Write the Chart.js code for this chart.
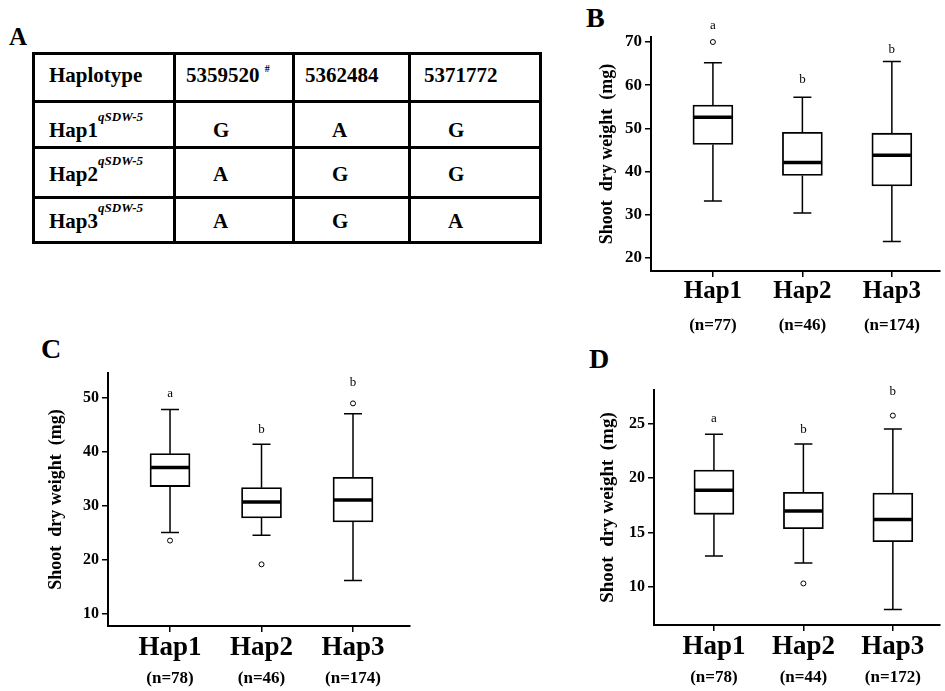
<!DOCTYPE html>
<html>
<head>
<meta charset="utf-8">
<script src="https://cdn.jsdelivr.net/npm/chart.js@4.4.1/dist/chart.umd.min.js"></script>
<style>
  body { margin: 0; width: 945px; height: 691px; background: #fff; position: relative; overflow: hidden; font-family: 'Liberation Serif', 'Times New Roman', serif; }
  .panel { position: absolute; font-weight: bold; line-height: 1; color: #000; }
  canvas { position: absolute; }
  #hapTable { position: absolute; left: 32px; top: 52px; border-collapse: collapse; table-layout: fixed; width: 507px; font-weight: bold; font-size: 21px; line-height: 24px; color: #000; }
  #hapTable td { border: 3px solid #000; padding: 0; vertical-align: top; white-space: nowrap; }
  #hapTable sup { font-size: 13px; font-style: italic; vertical-align: baseline; position: relative; top: -16px; }
  #hapTable sup.hash { font-style: normal; font-size: 10px; top: -10px; }
</style>
</head>
<body>
<div class="panel" style="left:9px;top:24px;font-size:25px;">A</div>
<div class="panel" style="left:586px;top:4px;font-size:28px;">B</div>
<div class="panel" style="left:41px;top:335px;font-size:28px;">C</div>
<div class="panel" style="left:589px;top:345px;font-size:28px;">D</div>
<table id="hapTable"></table>
<canvas id="chartB" width="365" height="345" style="left:580px;top:0px;"></canvas>
<canvas id="chartC" width="460" height="361" style="left:0px;top:330px;"></canvas>
<canvas id="chartD" width="365" height="341" style="left:580px;top:350px;"></canvas>
<script>
// table A
const snpIds = ['5359520', '5362484', '5371772'];
const hapRows = ['Hap1', 'Hap2', 'Hap3'];
const alleles = [['G', 'A', 'G'], ['A', 'G', 'G'], ['A', 'G', 'A']];

// shared x categories
const haps = ['Hap1', 'Hap2', 'Hap3'];
const xPos = [1, 2, 3];

// panel B
const nB = ['(n=77)', '(n=46)', '(n=174)'];
const minB = [33.2, 30.4, 23.8];
const q1B = [46.3, 39.1, 36.7];
const medB = [52.6, 42.1, 43.8];
const q3B = [55.4, 49.1, 48.9];
const maxB = [65.2, 57.2, 65.5];
const outB = [[70.0], [], []];
const letB = ['a', 'b', 'b'];
const letYB = [73.1, 60.4, 67.5];
const ticksB = [20, 30, 40, 50, 60, 70];

// panel C
const nC = ['(n=78)', '(n=46)', '(n=174)'];
const minC = [25.1, 24.6, 16.2];
const q1C = [33.6, 27.8, 27.05];
const medC = [37.15, 30.75, 31.1];
const q3C = [39.7, 33.4, 35.3];
const maxC = [47.85, 41.45, 47.1];
const outC = [[23.6], [19.2], [49.0]];
const letC = ['a', 'b', 'b'];
const letYC = [50.2, 43.5, 52.3];
const ticksC = [10, 20, 30, 40, 50];

// panel D
const nD = ['(n=78)', '(n=44)', '(n=172)'];
const minD = [12.83, 12.18, 7.91];
const q1D = [16.67, 15.35, 14.15];
const medD = [18.88, 16.98, 16.2];
const q3D = [20.76, 18.7, 18.64];
const maxD = [24.05, 23.16, 24.54];
const outD = [[], [10.3], [25.77]];
const letD = ['a', 'b', 'b'];
const letYD = [25.2, 24.2, 27.7];
const ticksD = [10, 15, 20, 25];

const serif = "'Liberation Serif', 'Times New Roman', serif";

// build the haplotype table
(function() {
    const colW = [141, 119, 116, 131];
    const rowH = [48, 46, 50, 45];
    const padTop = [8, 15, 13, 10];
    let html = '<colgroup>' + colW.map(w => '<col style="width:' + w + 'px">').join('') + '</colgroup>';
    html += '<tr style="height:' + rowH[0] + 'px"><td style="padding:' + padTop[0] + 'px 0 0 14px">Haplotype</td>';
    snpIds.forEach((id, j) => {
        const extra = j === 0 ? ' <sup class="hash">#</sup>' : '';
        html += '<td style="padding:' + padTop[0] + 'px 0 0 ' + (j === 2 ? 13 : 10) + 'px">' + id + extra + '</td>';
    });
    html += '</tr>';
    hapRows.forEach((h, i) => {
        html += '<tr style="height:' + rowH[i + 1] + 'px"><td style="padding:' + padTop[i + 1] + 'px 0 0 14px">' + h + '<sup>qSDW-5</sup></td>';
        alleles[i].forEach(a => {
            html += '<td style="padding:' + padTop[i + 1] + 'px 0 0 37px">' + a + '</td>';
        });
        html += '</tr>';
    });
    document.getElementById('hapTable').innerHTML = html;
})();

function boxChart(id, d) {
    var boxData = xPos.map(function(x, i) { return { x: x, y: [d.q1[i], d.q3[i]] }; });
    var outData = [];
    d.out.forEach(function(list, i) {
        list.forEach(function(v) { outData.push({ x: xPos[i], y: v }); });
    });

    // whiskers, medians and significance letters
    var boxExtras = {
        id: 'boxExtras',
        afterDatasetsDraw: function(chart) {
            var ctx = chart.ctx, xs = chart.scales.x, ys = chart.scales.y;
            ctx.save();
            ctx.strokeStyle = '#000';
            ctx.fillStyle = '#000';
            xPos.forEach(function(x, i) {
                var px = xs.getPixelForValue(x);
                ctx.lineWidth = 1.5;
                ctx.beginPath();
                ctx.moveTo(px, ys.getPixelForValue(d.q3[i]));
                ctx.lineTo(px, ys.getPixelForValue(d.max[i]));
                ctx.moveTo(px, ys.getPixelForValue(d.q1[i]));
                ctx.lineTo(px, ys.getPixelForValue(d.min[i]));
                ctx.moveTo(px - 9, ys.getPixelForValue(d.max[i]));
                ctx.lineTo(px + 9, ys.getPixelForValue(d.max[i]));
                ctx.moveTo(px - 9, ys.getPixelForValue(d.min[i]));
                ctx.lineTo(px + 9, ys.getPixelForValue(d.min[i]));
                ctx.stroke();
                ctx.lineWidth = 3.5;
                ctx.beginPath();
                ctx.moveTo(px - 19, ys.getPixelForValue(d.med[i]));
                ctx.lineTo(px + 19, ys.getPixelForValue(d.med[i]));
                ctx.stroke();
                ctx.font = '13px ' + serif;
                ctx.textAlign = 'center';
                ctx.textBaseline = 'alphabetic';
                ctx.fillText(d.letters[i], px, ys.getPixelForValue(d.letterY[i]));
            });
            ctx.restore();
        }
    };

    return new Chart(document.getElementById(id), {
        type: 'bar',
        data: {
            datasets: [{
                type: 'bar',
                data: boxData,
                backgroundColor: '#fff',
                borderColor: '#000',
                borderWidth: 1.8,
                borderSkipped: false,
                barThickness: 40,
                xAxisID: 'x',
                yAxisID: 'y'
            }, {
                type: 'scatter',
                data: outData,
                pointRadius: 2.5,
                pointBackgroundColor: '#fff',
                pointBorderColor: '#000',
                pointBorderWidth: 1,
                xAxisID: 'x',
                yAxisID: 'y'
            }]
        },
        options: {
            responsive: false,
            animation: false,
            devicePixelRatio: 1,
            layout: { padding: { left: 0, top: d.padTop, right: d.padRight, bottom: d.padBottom } },
            plugins: { legend: { display: false }, tooltip: { enabled: false } },
            scales: {
                x: {
                    type: 'linear',
                    position: 'bottom',
                    offset: false,
                    min: d.xMin,
                    max: d.xMax,
                    afterBuildTicks: function(s) { s.ticks = xPos.map(function(v) { return { value: v }; }); },
                    afterFit: function(s) { s.height = d.hapH; },
                    ticks: {
                        callback: function(v, i) { return haps[i]; },
                        font: { family: serif, size: d.hapSize, weight: 'bold' },
                        color: '#000',
                        padding: d.hapPad,
                        maxRotation: 0,
                        autoSkip: false
                    },
                    grid: { offset: false, drawOnChartArea: false, drawTicks: true, tickLength: 6, color: '#000', lineWidth: 1.5 },
                    border: { display: true, color: '#000', width: 2 }
                },
                xn: {
                    type: 'linear',
                    position: 'bottom',
                    offset: false,
                    weight: 1,
                    min: d.xMin,
                    max: d.xMax,
                    afterBuildTicks: function(s) { s.ticks = xPos.map(function(v) { return { value: v }; }); },
                    afterFit: function(s) { s.height = d.nH; },
                    ticks: {
                        callback: function(v, i) { return d.n[i]; },
                        font: { family: serif, size: 17, weight: 'bold' },
                        color: '#000',
                        padding: d.nPad,
                        maxRotation: 0,
                        autoSkip: false
                    },
                    grid: { display: false, drawTicks: false, offset: false },
                    border: { display: false }
                },
                y: {
                    type: 'linear',
                    min: d.yMin,
                    max: d.yMax,
                    afterBuildTicks: function(s) { s.ticks = d.ticks.map(function(v) { return { value: v }; }); },
                    afterFit: function(s) { s.width = d.yWidth; },
                    ticks: {
                        font: { family: serif, size: d.tickSize, weight: 'bold' },
                        color: '#000',
                        padding: 3
                    },
                    grid: { drawOnChartArea: false, drawTicks: true, tickLength: 6, color: '#000', lineWidth: 1.5 },
                    border: { display: true, color: '#000', width: 2 },
                    title: {
                        display: true,
                        text: 'Shoot  dry weight  (mg)',
                        font: { family: serif, size: d.titleSize, weight: 'bold' },
                        color: '#000',
                        padding: { top: d.titlePad, bottom: 0 }
                    }
                }
            }
        },
        plugins: [boxExtras]
    });
}

boxChart('chartB', {
    min: minB, q1: q1B, med: medB, q3: q3B, max: maxB, out: outB,
    letters: letB, letterY: letYB, ticks: ticksB, n: nB,
    yMin: 16.99, yMax: 71.16, xMin: 0.308, xMax: 3.538,
    yWidth: 71, tickSize: 17, titleSize: 18, titlePad: 17,
    hapSize: 25, hapPad: 0, hapH: 40, nPad: 4, nH: 30,
    padTop: 37, padRight: 0, padBottom: 4
});

boxChart('chartC', {
    min: minC, q1: q1C, med: medC, q3: q3C, max: maxC, out: outC,
    letters: letC, letterY: letYC, ticks: ticksC, n: nC,
    yMin: 7.78, yMax: 54.63, xMin: 0.322, xMax: 3.623,
    yWidth: 108, tickSize: 16, titleSize: 18, titlePad: 46,
    hapSize: 27, hapPad: 0, hapH: 40, nPad: 2, nH: 25,
    padTop: 43, padRight: 50, padBottom: 0
});

boxChart('chartD', {
    min: minD, q1: q1D, med: medD, q3: q3D, max: maxD, out: outD,
    letters: letD, letterY: letYD, ticks: ticksD, n: nD,
    yMin: 6.47, yMax: 28.13, xMin: 0.330, xMax: 3.527,
    yWidth: 74, tickSize: 16, titleSize: 19, titlePad: 17,
    hapSize: 27, hapPad: 0, hapH: 38, nPad: 4, nH: 28,
    padTop: 40, padRight: 0, padBottom: 0
});
</script>
</body>
</html>
